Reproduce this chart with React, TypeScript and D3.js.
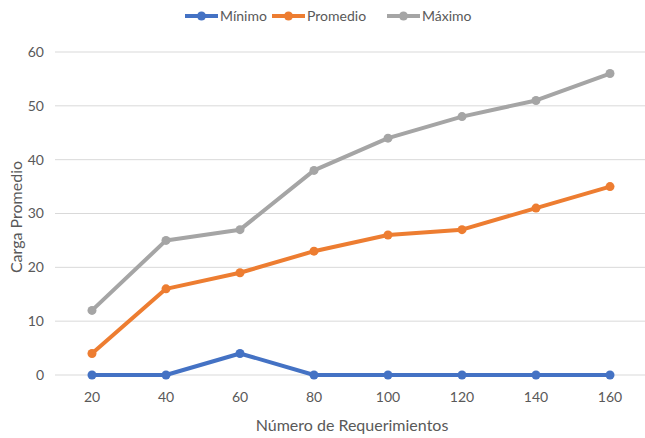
import * as d3 from "d3";

const categories = ["20", "40", "60", "80", "100", "120", "140", "160"];
const minimo = [0, 0, 4, 0, 0, 0, 0, 0];
const promedio = [4, 16, 19, 23, 26, 27, 31, 35];
const maximo = [12, 25, 27, 38, 44, 48, 51, 56];
const yTicks = [0, 10, 20, 30, 40, 50, 60];

const series = [
  { name: "Mínimo", values: minimo, color: "#4472C4" },
  { name: "Promedio", values: promedio, color: "#ED7D31" },
  { name: "Máximo", values: maximo, color: "#A5A5A5" },
];

const width = 645;
const height = 438;
const font = "Lato, 'Open Sans', sans-serif";
const textColor = "#595959";

export default function App() {
  const x = d3.scalePoint<string>().domain(categories).range([55, 647]).padding(0.5);
  const y = d3.scaleLinear().domain([0, 60]).range([375, 52]);
  const line = d3
    .line<number>()
    .x((_, i) => x(categories[i])!)
    .y((d) => y(d));

  const legendX = [185, 272, 387];

  return (
    <svg
      width={width}
      height={height}
      style={{ position: "absolute", left: 0, top: 0, background: "#fff" }}
      fontFamily={font}
    >
      {yTicks.map((t) => (
        <g key={t}>
          <line x1={55} x2={645} y1={y(t)} y2={y(t)} stroke="#D9D9D9" strokeWidth={1} />
          <text x={44} y={y(t)} dy="0.35em" textAnchor="end" fontSize={14} fill={textColor}>
            {t}
          </text>
        </g>
      ))}
      {categories.map((c) => (
        <text key={c} x={x(c)} y={402} textAnchor="middle" fontSize={14} fill={textColor}>
          {c}
        </text>
      ))}
      <text x={352} y={431} textAnchor="middle" fontSize={16} fill={textColor}>
        Número de Requerimientos
      </text>
      <text
        transform={`translate(22,217) rotate(-90)`}
        textAnchor="middle"
        fontSize={16}
        fill={textColor}
      >
        Carga Promedio
      </text>
      {series.map((s) => (
        <g key={s.name}>
          <path d={line(s.values)!} fill="none" stroke={s.color} strokeWidth={4} strokeLinejoin="round" />
          {s.values.map((v, i) => (
            <circle key={i} cx={x(categories[i])} cy={y(v)} r={4.5} fill={s.color} />
          ))}
        </g>
      ))}
      {series.map((s, i) => (
        <g key={s.name} transform={`translate(${legendX[i]},16)`}>
          <line x1={0} x2={33} y1={0} y2={0} stroke={s.color} strokeWidth={4} />
          <circle cx={16.5} cy={0} r={4.5} fill={s.color} />
          <text x={35} y={0} dy="0.35em" fontSize={14} fill={textColor}>
            {s.name}
          </text>
        </g>
      ))}
    </svg>
  );
}
